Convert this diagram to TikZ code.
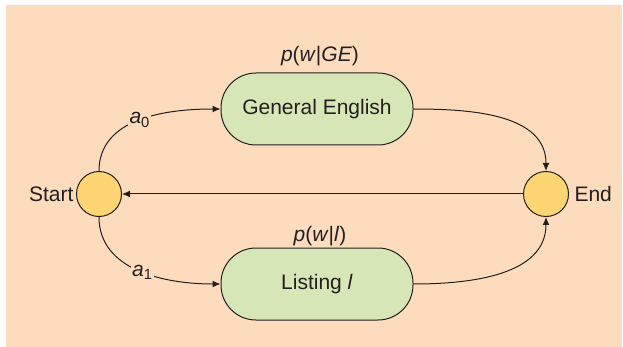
\documentclass[tikz,border=0pt]{standalone}
\usepackage{fontspec}
\setmainfont{Liberation Sans}
\usetikzlibrary{arrows.meta}
\definecolor{bgpeach}{RGB}{253,220,190}
\definecolor{boxgreen}{RGB}{215,230,182}
\definecolor{circyellow}{RGB}{253,213,115}
\definecolor{ink}{RGB}{35,31,32}
\begin{document}
\begin{tikzpicture}[x=1pt,y=-1pt,
  every node/.style={text=ink,font=\fontsize{21}{25}\selectfont},
  statebox/.style={draw=ink,line width=1pt,fill=boxgreen,rounded corners=35pt,minimum width=192pt,minimum height=72pt,inner sep=0pt},
  endpt/.style={circle,draw=ink,line width=1pt,fill=circyellow,minimum size=45pt,inner sep=0pt},
  conn/.style={draw=ink,line width=1pt,-{Latex[length=8pt,width=7pt]}},
  lbl/.style={fill=bgpeach,inner sep=1.5pt}]
\useasboundingbox (0,0) rectangle (623,347);
\fill[bgpeach] (6,5) rectangle (622,347);
\node[statebox] (ge) at (317,109) {General English};
\node[statebox] (li) at (317,284) {Listing \textit{l}};
\node[endpt] (start) at (99,194) {};
\node[endpt] (end) at (546,194) {};
\node[anchor=east,xshift=1pt] (starttxt) at (start.west) {Start};
\node[anchor=west,xshift=2pt] (endtxt) at (end.east) {End};
\node (pge) at (320,56) {\textit{p}(\textit{w}|\textit{GE})};
\node (pli) at (320,236) {\textit{p}(\textit{w}|\textit{l})};
\draw[conn] (start.north) to[out=90,in=180] node[lbl,pos=0.5] (a0) {\textit{a}\textsubscript{0}} (ge.west);
\draw[conn] (start.south) to[out=-90,in=180] node[lbl,pos=0.52] (a1) {\textit{a}\textsubscript{1}} (li.west);
\draw[conn] (ge.east) to[out=0,in=90] (end.north);
\draw[conn] (li.east) to[out=0,in=-90] (end.south);
\draw[conn] (end.west) -- (start.east);
\end{tikzpicture}
\end{document}
